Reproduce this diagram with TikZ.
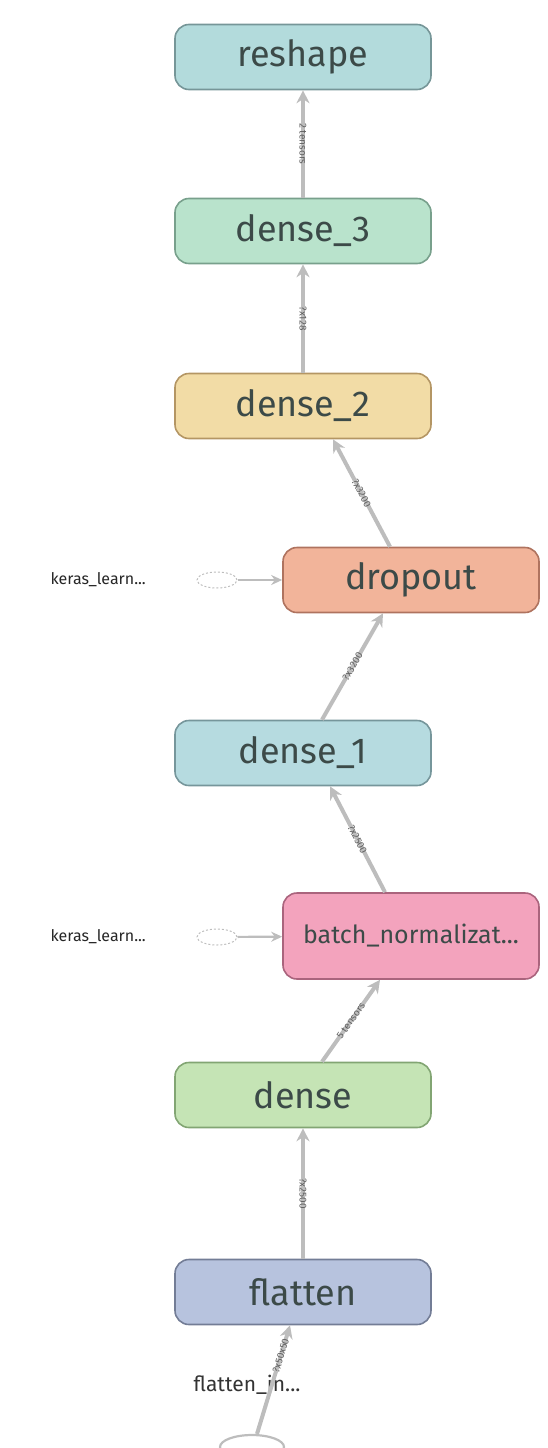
\documentclass[tikz,border=0pt]{standalone}
\usepackage{fontspec}
\setmainfont{Fira Sans}
\usetikzlibrary{arrows.meta,shapes.geometric}
\definecolor{edgec}{HTML}{BDBDBD}
\definecolor{labc}{HTML}{606060}
\definecolor{txtc}{HTML}{3C4A48}
\tikzset{
  layer/.style={draw, line width=1.6pt, rounded corners=14pt, minimum width=256pt, minimum height=65pt, inner sep=0pt, text=txtc, font=\fontsize{36}{40}\selectfont},
  flow/.style={draw=edgec, line width=4pt, -{Stealth[length=13pt,width=13pt]}},
  thinflow/.style={draw=edgec, line width=2.2pt, -{Stealth[length=11pt,width=10pt]}},
  elab/.style={font=\fontsize{10}{11}\selectfont, text=labc, inner sep=1pt},
  side/.style={font=\fontsize{16}{18}\selectfont, text=black!85, inner sep=0pt},
  aux/.style={draw=edgec, dash pattern=on 2pt off 2pt, line width=1pt, ellipse, minimum width=40pt, minimum height=16pt, inner sep=0pt}
}
\begin{document}
\begin{tikzpicture}[x=1pt,y=-1pt]
\useasboundingbox (0,0) rectangle (547,1448);
\node[layer, fill={rgb,255:red,179;green,219;blue,220}, draw={rgb,255:red,118;green,150;blue,152}] (reshape) at (303,57) {reshape};
\node[layer, fill={rgb,255:red,185;green,227;blue,204}, draw={rgb,255:red,120;green,160;blue,140}] (d3) at (303,231) {dense\_3};
\node[layer, fill={rgb,255:red,242;green,220;blue,166}, draw={rgb,255:red,180;green,150;blue,100}] (d2) at (303,406) {dense\_2};
\node[layer, fill={rgb,255:red,242;green,180;blue,154}, draw={rgb,255:red,175;green,115;blue,95}] (drop) at (411,580) {dropout};
\node[layer, fill={rgb,255:red,182;green,219;blue,224}, draw={rgb,255:red,118;green,150;blue,155}] (d1) at (303,753) {dense\_1};
\node[layer, minimum height=86pt, fill={rgb,255:red,243;green,163;blue,189}, draw={rgb,255:red,170;green,100;blue,125}, font=\fontsize{25}{29}\selectfont] (bn) at (411,936) {batch\_normalizat...};
\node[layer, fill={rgb,255:red,197;green,228;blue,181}, draw={rgb,255:red,130;green,165;blue,115}] (dense) at (303,1095) {dense};
\node[layer, fill={rgb,255:red,183;green,195;blue,222}, draw={rgb,255:red,115;green,125;blue,150}] (flat) at (303,1292) {flatten};
% side inputs
\node[aux] (k1) at (217,580) {};
\node[side, anchor=east] (k1t) at (146,580) {keras\_learn...};
\node[aux] (k2) at (217,937) {};
\node[side, anchor=east] (k2t) at (146,937) {keras\_learn...};
\draw[thinflow] (k1) -- (drop);
\draw[thinflow] (k2) -- (bn);
% flatten input
\node[draw=edgec, line width=2.2pt, ellipse, minimum width=64pt, minimum height=24pt, inner sep=0pt] (fin) at (252,1447) {};
\node[font=\fontsize{21}{24}\selectfont, text=black!80] (fint) at (247,1385) {flatten\_in...};
% edges
\draw[flow] (d3.north) -- node[elab, rotate=-90] {2 tensors} (reshape.south);
\draw[flow] (d2.north) -- node[elab, rotate=-90] {?x128} (d3.south);
\draw[flow] ([xshift=-21pt]drop.north) -- node[elab, sloped] {?x3200} ([xshift=30pt]d2.south);
\draw[flow] ([xshift=19pt]d1.north) -- node[elab, sloped] {?x3200} ([xshift=-28pt]drop.south);
\draw[flow] ([xshift=-26pt]bn.north) -- node[elab, sloped] {?x2500} ([xshift=27pt]d1.south);
\draw[flow] ([xshift=19pt]dense.north) -- node[elab, sloped] {5 tensors} ([xshift=-31pt]bn.south);
\draw[flow] (flat.north) -- node[elab, rotate=-90] {?x2500} (dense.south);
\draw[flow] ([xshift=5pt]fin.north) -- node[elab, sloped, pos=0.72] {?x50x50} ([xshift=-13pt]flat.south);
\end{tikzpicture}
\end{document}
